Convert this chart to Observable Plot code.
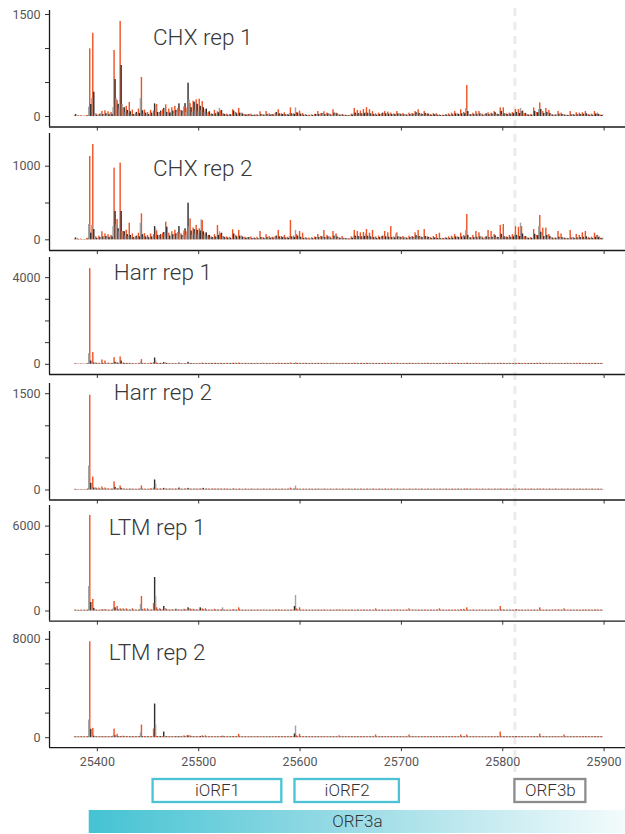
<!DOCTYPE html>
<html><head><meta charset="utf-8">
<script src="https://cdn.jsdelivr.net/npm/d3@7"></script>
<script src="https://cdn.jsdelivr.net/npm/@observablehq/plot@0.6"></script>
<style>
body{margin:0;background:#fff;}
#root{position:relative;width:625px;height:834px;overflow:hidden;background:#fff;}
#root svg{position:absolute;left:0;}
</style></head><body><div id="root"></div>
<script>
// ---------------- data ----------------
// per-nucleotide counts starting at START; consecutive triples = frame 0 (ORF3a frame), +1, +2
const START = 25378;
const xTicks = [25400, 25500, 25600, 25700, 25800, 25900];
const frameColors = ["#EE5325", "#2F2F2F", "#A3A3A3"];
const panelNames = ["CHX rep 1", "CHX rep 2", "Harr rep 1", "Harr rep 2", "LTM rep 1", "LTM rep 2"];
const yTickSets = [[0,500,1000,1500],[0,500,1000],[0,1000,2000,3000,4000],[0,500,1000,1500],[0,2000,4000,6000],[0,2000,4000,6000,8000]];
const yLabelSets = [[0,1500],[0,1000],[0,4000],[0,1500],[0,6000],[0,8000]];

const chx1 = [
10,30,5, 8,5,3, 12,4,2, 6,3,4, 15,8,137, 995,176,265, 1225,357,30, 40,20,15, 25,35,10, 75,30,20,
85,40,15, 70,25,45, 60,30,130, 971,544,265, 235,180,110, 1397,750,176, 118,130,60, 150,90,45, 206,70,30, 95,30,25,
40,60,35, 110,45,265, 574,85,40, 95,50,30, 60,30,25, 90,50,30, 80,186,147, 176,60,40, 60,80,30, 100,120,50,
172,60,40, 110,50,60, 130,80,40, 150,90,60, 120,186,70, 90,80,40, 140,190,60, 120,490,245, 190,130,60, 225,210,90,
245,180,70, 255,150,90, 220,130,60, 100,110,40, 60,70,30, 40,30,20, 90,40,25, 70,55,120, 80,90,40, 40,30,20,
35,20,15, 30,25,15, 100,80,30, 60,40,25, 120,50,30, 50,35,20, 30,20,25, 25,30,15, 35,15,20, 20,20,10,
30,15,15, 70,30,20, 25,20,15, 73,30,20, 40,20,30, 30,25,15, 45,60,25, 100,40,20, 40,30,35, 55,25,20,
30,20,45, 127,40,30, 40,30,127, 60,50,25, 80,35,20, 45,20,15, 30,15,10, 20,10,10, 25,15,10, 35,30,20,
73,30,20, 40,45,25, 70,30,20, 50,40,15, 35,20,20, 100,50,25, 50,40,20, 25,20,10, 30,20,15, 20,15,10,
15,10,10, 35,20,40, 118,50,30, 90,45,40, 80,40,30, 103,45,55, 130,50,40, 100,40,30, 73,30,25, 40,20,20,
50,30,20, 40,50,30, 73,40,25, 65,35,20, 50,30,25, 40,25,30, 73,40,20, 40,30,20, 45,25,20, 30,20,15,
50,30,20, 45,35,25, 73,55,30, 100,45,30, 40,30,20, 73,45,25, 40,35,20, 30,20,15, 45,25,30, 40,20,15,
25,15,10, 20,15,10, 30,20,15, 40,20,15, 50,25,20, 73,40,25, 40,30,20, 100,40,30, 60,40,118, 456,73,25,
30,25,20, 49,30,25, 73,35,30, 73,40,25, 35,20,15, 30,40,45, 55,30,25, 49,35,20, 73,55,30, 35,30,20,
127,75,30, 127,40,35, 40,30,20, 50,35,30, 60,40,45, 103,60,40, 103,45,118, 73,80,40, 40,45,25, 25,20,15,
30,20,15, 127,75,35, 60,55,100, 200,103,50, 73,45,30, 118,60,30, 90,45,25, 30,20,15, 25,20,15, 73,35,20,
49,30,15, 25,20,15, 20,15,10, 73,25,20, 30,20,15, 55,25,20, 49,30,20, 55,35,20, 73,40,20, 30,20,15,
35,20,15, 73,35,40, 49,30,30, 20,15,25];

const chx2 = [
10,27,5, 15,5,3, 10,4,2, 5,3,5, 20,10,208, 1132,90,195, 1295,140,40, 40,20,15, 50,30,15, 110,40,25,
80,45,20, 70,30,40, 60,40,180, 974,385,200, 276,150,110, 1042,385,113, 113,110,60, 130,70,45, 226,60,30, 80,30,20,
40,50,35, 90,40,226, 353,70,40, 85,40,30, 60,30,20, 80,40,30, 70,180,150, 120,60,40, 60,70,30, 90,100,40,
240,172,50, 90,50,50, 110,70,40, 130,80,60, 100,180,70, 80,60,40, 120,150,60, 110,498,180, 285,120,60, 160,140,80,
195,130,70, 150,120,272, 262,110,60, 90,95,40, 60,60,30, 40,30,20, 70,40,30, 195,60,110, 80,90,40, 45,30,20,
40,25,15, 35,20,15, 136,80,30, 60,40,25, 127,50,30, 50,35,20, 35,20,25, 30,30,15, 40,15,20, 25,20,10,
35,15,15, 113,30,20, 30,20,15, 70,30,20, 45,20,30, 35,25,15, 45,50,25, 127,40,20, 45,30,35, 60,25,20,
35,20,45, 262,40,30, 50,30,127, 70,50,25, 113,35,20, 90,20,15, 30,15,10, 25,10,10, 30,15,10, 40,30,20,
72,30,20, 45,40,25, 127,30,20, 60,40,15, 40,20,20, 113,50,25, 80,40,20, 30,20,10, 45,20,15, 20,15,10,
15,10,10, 40,20,40, 127,50,30, 113,45,40, 95,40,30, 100,45,80, 140,50,40, 90,40,30, 127,30,25, 40,20,20,
50,30,20, 45,50,30, 113,40,25, 95,35,20, 180,30,25, 40,25,80, 95,40,20, 40,30,20, 45,25,20, 30,20,15,
50,30,20, 45,35,25, 95,55,30, 127,45,30, 40,30,20, 140,45,25, 40,35,20, 30,20,15, 45,25,30, 72,20,15,
90,15,10, 20,15,10, 30,20,15, 40,20,15, 50,25,20, 72,40,25, 40,30,20, 90,40,30, 60,40,127, 344,60,25,
30,25,20, 60,30,25, 113,35,30, 95,40,25, 40,20,15, 30,40,50, 127,30,25, 113,35,20, 72,55,30, 35,30,20,
195,75,30, 208,40,35, 40,30,20, 60,35,30, 70,40,60, 180,60,40, 170,45,226, 180,80,40, 40,45,25, 25,20,15,
30,20,15, 140,75,35, 60,55,180, 330,103,50, 158,45,30, 160,60,30, 72,45,25, 30,20,15, 25,20,15, 113,35,20,
80,30,15, 25,20,15, 20,15,10, 127,25,20, 30,20,15, 72,25,20, 60,30,20, 95,35,20, 113,40,20, 30,20,15,
35,20,15, 90,35,60, 60,30,40, 20,15,25];

const harr1 = [
20,25,10, 15,10,10, 20,10,8, 15,10,10, 25,30,490, 4415,150,60, 540,60,30, 60,30,20, 50,25,20, 200,40,20,
150,30,20, 60,25,20, 40,30,50, 308,90,40, 80,40,30, 340,150,40, 60,40,25, 50,30,20, 50,25,20, 40,20,15,
30,20,15, 40,20,100, 215,30,20, 40,20,15, 30,20,15, 60,30,20, 80,290,150, 60,30,20, 40,40,20, 40,80,25,
60,40,20, 30,25,15, 30,30,15, 30,30,15, 30,60,15, 30,25,15, 30,30,15, 30,90,20, 40,40,15, 30,30,15,
30,25,15, 40,25,15, 60,30,15, 45,35,20, 40,30,25, 50,35,20, 45,40,20, 40,30,30, 45,35,20, 40,30,20,
45,30,25, 40,35,20, 45,40,20, 50,30,20, 60,35,20, 40,30,25, 45,35,20, 40,30,20, 45,35,20, 40,30,25,
45,30,20, 40,35,20, 50,30,20, 45,35,25, 40,30,20, 45,30,20, 40,35,20, 50,30,25, 45,30,20, 40,35,20,
45,30,20, 60,30,20, 40,30,70, 45,35,20, 50,30,20, 40,30,20, 45,35,25, 40,30,20, 45,30,20, 40,35,20,
50,30,20, 45,35,20, 40,30,25, 45,30,20, 40,35,20, 50,30,20, 45,35,25, 40,30,20, 45,30,20, 40,35,20,
45,30,20, 40,35,25, 50,30,20, 45,30,20, 40,35,20, 45,30,20, 50,35,25, 40,30,20, 45,30,20, 40,35,20,
45,30,20, 40,35,20, 50,30,25, 45,30,20, 40,35,20, 45,30,20, 50,35,20, 40,30,25, 45,30,20, 40,35,20,
50,30,20, 45,35,20, 40,30,25, 45,30,20, 40,35,20, 45,30,20, 50,35,25, 40,30,20, 45,30,20, 40,35,20,
45,30,20, 40,35,25, 50,30,20, 45,30,20, 40,35,20, 45,30,20, 50,35,25, 40,30,20, 45,30,20, 60,35,20,
45,30,20, 40,35,20, 50,30,25, 45,30,20, 40,35,20, 45,30,20, 50,35,20, 40,30,25, 45,30,20, 40,35,20,
55,30,20, 45,35,20, 40,30,25, 45,30,20, 40,35,20, 45,30,20, 50,35,25, 40,30,20, 45,30,20, 40,35,20,
45,30,20, 40,35,25, 50,30,20, 55,30,20, 40,35,20, 45,30,20, 50,35,25, 40,30,20, 45,30,20, 40,35,20,
45,30,20, 40,35,20, 50,30,25, 45,30,20, 40,35,20, 45,30,20, 50,35,20, 40,30,25, 45,30,20, 40,35,20,
45,30,20, 50,35,25, 40,30,20, 45,30,20];

const harr2 = [
8,10,4, 6,5,3, 8,5,3, 6,5,4, 10,12,374, 1475,104,25, 202,30,12, 31,15,8, 30,12,8, 47,15,8,
31,12,8, 20,10,8, 15,12,15, 125,40,12, 20,15,10, 62,25,10, 15,12,8, 14,10,8, 15,12,8, 15,10,8,
12,10,8, 14,10,20, 62,12,8, 14,10,8, 12,10,8, 20,12,8, 30,156,93, 15,12,8, 14,15,8, 12,25,8,
15,12,8, 12,15,8, 14,12,8, 12,15,8, 12,30,8, 14,12,8, 12,15,8, 14,25,8, 15,12,8, 12,14,8,
14,12,8, 12,15,8, 15,25,8, 12,14,8, 14,12,8, 12,14,8, 15,12,8, 15,12,10, 14,12,8, 12,14,8,
14,12,8, 12,10,8, 13,15,8, 12,10,8, 14,12,8, 12,10,8, 13,12,8, 12,10,8, 14,12,8, 12,10,8,
13,12,8, 12,10,8, 14,12,8, 12,10,8, 13,12,8, 12,10,8, 14,12,8, 12,10,8, 13,12,8, 12,10,8,
14,12,8, 30,12,8, 14,12,60, 13,12,8, 14,10,8, 12,12,8, 13,10,8, 12,12,8, 14,10,8, 12,12,8,
13,12,8, 12,10,8, 14,12,8, 12,10,8, 13,12,8, 12,10,8, 14,12,8, 12,10,8, 13,12,8, 12,10,8,
14,12,8, 12,10,8, 13,12,8, 12,10,8, 14,12,8, 12,10,8, 13,12,8, 12,10,8, 14,12,8, 12,10,8,
13,12,8, 12,10,8, 14,12,8, 12,10,8, 13,12,8, 12,10,8, 14,12,8, 12,10,8, 13,12,8, 12,10,8,
14,12,8, 12,10,8, 13,12,8, 12,10,8, 14,12,8, 12,10,8, 13,12,8, 12,10,8, 14,12,8, 12,10,8,
13,12,8, 12,10,8, 14,12,8, 12,10,8, 13,12,8, 12,10,8, 14,12,8, 12,10,8, 13,12,8, 18,10,8,
13,12,8, 12,10,8, 14,12,8, 12,10,8, 13,12,8, 12,10,8, 14,12,8, 12,10,8, 13,12,8, 12,10,8,
16,12,8, 12,10,8, 14,12,8, 12,10,8, 13,12,8, 12,10,8, 14,12,8, 12,10,8, 13,12,8, 12,10,8,
14,12,8, 12,10,8, 13,12,8, 16,10,8, 14,12,8, 12,10,8, 13,12,8, 12,10,8, 14,12,8, 12,10,8,
13,12,8, 12,10,8, 14,12,8, 12,10,8, 13,12,8, 12,10,8, 14,12,8, 12,10,8, 13,12,8, 12,10,8,
14,12,8, 12,10,8, 13,12,8, 12,10,8];

const ltm1 = [
60,50,30, 55,40,30, 60,45,30, 55,50,30, 60,50,1731, 6750,600,120, 813,177,60, 70,50,30, 60,50,30, 100,60,40,
100,55,35, 70,50,30, 60,55,153, 671,224,60, 318,80,40, 153,70,40, 153,60,40, 153,60,35, 80,55,30, 153,60,35,
70,50,35, 70,55,460, 1025,80,40, 150,60,35, 150,55,35, 70,60,35, 530,2367,1025, 224,70,40, 150,80,35, 80,318,40,
150,70,35, 70,60,35, 80,60,35, 70,120,35, 70,60,35, 80,55,35, 120,70,35, 80,224,40, 150,70,35, 120,60,35,
80,60,35, 80,224,40, 150,70,35, 150,60,35, 70,55,35, 70,50,35, 120,60,35, 80,55,40, 70,60,224, 70,55,35,
70,50,30, 65,55,30, 80,70,30, 70,55,30, 224,60,35, 70,50,30, 65,55,30, 60,50,30, 70,55,35, 65,50,30,
70,55,30, 65,50,30, 70,55,35, 60,50,30, 70,55,30, 65,50,30, 70,60,30, 80,55,35, 65,50,30, 70,55,30,
65,50,30, 70,55,35, 60,318,1095, 150,60,35, 224,55,30, 70,50,30, 65,55,30, 60,50,30, 70,55,35, 65,50,30,
80,55,30, 65,50,30, 80,55,35, 60,50,30, 70,55,30, 65,50,30, 70,60,30, 80,55,35, 65,50,30, 70,55,30,
65,50,30, 70,55,35, 60,50,30, 80,55,30, 65,50,30, 80,55,30, 65,50,35, 70,55,30, 60,50,30, 150,55,30,
65,50,30, 70,55,35, 60,50,30, 70,55,30, 65,50,30, 70,55,30, 80,50,35, 70,55,30, 60,50,30, 70,55,30,
150,50,30, 70,55,35, 60,50,30, 70,55,30, 65,50,30, 70,55,30, 65,50,35, 70,55,30, 60,50,30, 70,55,30,
150,50,30, 70,55,35, 60,50,30, 70,55,30, 65,50,30, 70,55,30, 65,50,35, 100,55,30, 120,50,30, 224,55,30,
65,50,30, 70,55,35, 60,50,30, 70,55,30, 65,50,30, 70,55,30, 65,50,35, 70,55,30, 60,50,30, 70,55,30,
318,60,30, 80,55,35, 60,50,30, 70,55,30, 65,50,30, 70,80,30, 65,50,35, 70,55,30, 60,50,30, 70,55,30,
65,50,30, 70,55,35, 60,50,30, 224,55,30, 65,50,30, 70,55,30, 65,50,35, 70,55,30, 80,50,30, 80,55,30,
65,50,30, 150,55,35, 60,50,30, 70,55,30, 65,50,30, 70,55,30, 65,50,35, 70,55,30, 80,50,30, 70,55,30,
65,50,30, 80,55,35, 80,50,30, 70,55,30];

const ltm2 = [
75,60,40, 70,55,40, 75,60,40, 70,55,40, 75,60,1436, 7800,678,150, 759,120,60, 85,60,40, 80,60,40, 100,65,40,
100,60,40, 85,60,40, 80,60,150, 705,150,60, 271,80,40, 100,70,40, 120,65,40, 100,60,40, 85,60,40, 100,60,40,
85,60,40, 85,60,380, 1030,80,40, 100,60,40, 100,60,40, 85,60,40, 705,2737,1030, 100,70,40, 90,80,40, 85,460,40,
100,70,40, 85,60,40, 90,60,40, 85,80,40, 85,80,40, 90,60,40, 150,70,40, 150,150,40, 150,70,40, 100,60,40,
90,60,40, 90,100,40, 150,70,40, 150,60,40, 85,60,40, 85,60,40, 80,60,40, 90,60,40, 85,60,150, 85,60,40,
80,60,40, 85,60,40, 90,70,40, 85,60,40, 271,60,40, 85,60,40, 80,60,40, 75,60,40, 85,60,40, 80,60,40,
85,65,40, 80,60,40, 85,60,40, 75,60,40, 85,65,40, 80,60,40, 85,60,40, 90,60,40, 80,65,40, 85,60,40,
80,60,40, 85,65,40, 80,300,948, 150,60,40, 271,60,40, 85,60,40, 80,65,40, 75,60,40, 85,60,40, 80,60,40,
90,60,40, 80,65,40, 85,60,40, 75,60,40, 85,65,40, 80,60,40, 85,60,40, 150,60,40, 80,65,40, 85,60,40,
80,60,40, 85,65,40, 80,60,40, 90,60,40, 80,65,40, 85,60,40, 80,60,40, 85,65,40, 80,60,40, 217,60,40,
80,60,40, 85,65,40, 80,60,40, 85,60,40, 80,65,40, 85,60,40, 90,60,40, 85,65,40, 80,60,40, 85,60,40,
217,60,40, 85,65,40, 80,60,40, 85,60,40, 80,65,40, 85,60,40, 80,60,40, 85,65,40, 80,60,40, 85,60,40,
90,60,40, 85,65,40, 80,60,40, 85,60,40, 80,65,40, 85,60,40, 80,60,40, 217,65,40, 100,60,40, 217,60,40,
80,60,40, 85,65,40, 80,60,40, 85,60,40, 80,65,40, 85,60,40, 80,60,40, 85,65,40, 80,60,40, 85,60,40,
460,60,40, 85,65,40, 80,60,40, 85,60,40, 80,65,40, 85,80,40, 80,60,40, 85,65,40, 80,60,40, 85,60,40,
80,60,40, 85,65,40, 80,60,40, 300,60,40, 80,65,40, 85,60,40, 80,60,40, 85,65,40, 90,60,40, 90,60,40,
80,60,40, 217,65,40, 80,60,40, 85,60,40, 80,65,40, 85,60,40, 80,60,40, 85,65,40, 90,60,40, 85,60,40,
80,60,40, 90,65,40, 90,60,40, 85,60,40];

const geneNames = ["iORF1", "iORF2", "ORF3b"];
const geneStarts = [25455, 25595, 25812];
const geneEnds = [25582, 25698, 25882];
const orf3aRange = [25392, 26220];
const dashedAt = 25812;

// ---------------- layout ----------------
const xDomain = [25352.8, 25921.1];
const panelValues = [chx1, chx2, harr1, harr2, ltm1, ltm2];
const panelLayout = [
  {top: 10,    bottom: 126.5, yDomain: [-154, 1559], tdx: 103.5, tdy: 18.3},
  {top: 133,   bottom: 250,   yDomain: [-145, 1444], tdx: 103.5, tdy: 27},
  {top: 256.5, bottom: 373.5, yDomain: [-471, 4929], tdx: 64.3,  tdy: 6.2},
  {top: 382.5, bottom: 499,   yDomain: [-156, 1659], tdx: 64.3,  tdy: 0.5},
  {top: 505,   bottom: 620.7, yDomain: [-721, 7456], tdx: 59.3,  tdy: 13.3},
  {top: 630.5, bottom: 746.7, yDomain: [-813, 8634], tdx: 59.3,  tdy: 12.2}
];
const FONT = "Roboto, 'Liberation Sans', sans-serif";
const root = document.getElementById("root");

function rowsOf(vals) {
  // draw taller bars first so neighbouring short bars never hide a peak's top
  return vals.map((v, i) => ({pos: START + i, v, c: frameColors[i % 3]}))
             .sort((a, b) => b.v - a.v);
}

// dashed guide across all panels (drawn first, behind)
const guide = Plot.plot({
  width: 625, height: 834, marginLeft: 49, marginRight: 0, marginTop: 8, marginBottom: 31,
  x: {domain: xDomain, axis: null},
  style: {background: "transparent"},
  marks: [Plot.ruleX([dashedAt], {stroke: "#EBEBEB", strokeWidth: 3, strokeDasharray: "8,6"})]
});
guide.style.top = "0px";
root.append(guide);

panelLayout.forEach((p, i) => {
  const last = i === panelLayout.length - 1;
  const mb = last ? 24 : 6;
  const h = 8 + (p.bottom - p.top) + mb;
  const svg = Plot.plot({
    width: 625, height: h, marginLeft: 49, marginRight: 0, marginTop: 8, marginBottom: mb,
    x: {domain: xDomain},
    y: {domain: p.yDomain},
    color: {type: "identity"},
    style: {background: "transparent", fontFamily: FONT},
    marks: [
      Plot.rect(rowsOf(panelValues[i]), {x1: d => d.pos - 0.7, x2: d => d.pos + 0.7, y1: 0, y2: "v", fill: "c"}),
      Plot.ruleX([xDomain[0]], {stroke: "#1a1a1a", strokeWidth: 1.3}),
      Plot.ruleY([p.yDomain[0]], {stroke: "#1a1a1a", strokeWidth: 1.3}),
      Plot.axisY(yTickSets[i], {anchor: "left", label: null, tickSize: 4, tickPadding: 5,
        tickFormat: d => yLabelSets[i].includes(d) ? String(d) : "",
        fontSize: 12.5, fill: "#555", stroke: "#333"}),
      Plot.axisX(xTicks, {anchor: "bottom", label: null, tickSize: 4, tickPadding: 5,
        tickFormat: d => last ? String(d) : "",
        fontSize: 12.5, fill: "#555", stroke: "#333"}),
      Plot.text([panelNames[i]], {text: d => d, frameAnchor: "top-left", dx: p.tdx, dy: p.tdy,
        lineAnchor: "top", textAnchor: "start", fontSize: 22.5, fontWeight: 300, fill: "#383838"})
    ]
  });
  svg.style.top = (p.top - 8) + "px";
  root.append(svg);
});

// gene annotation track
const genes = geneNames.map((n, i) => ({name: n, start: geneStarts[i], end: geneEnds[i], row: "i",
  stroke: n === "ORF3b" ? "#8C8C8C" : "#4CC3D4"}));
const orf3a = [{name: "ORF3a", start: orf3aRange[0], end: Math.min(orf3aRange[1], xDomain[1]), row: "a"}];
const ann = Plot.plot({
  width: 625, height: 64, marginLeft: 49, marginRight: 0, marginTop: 0, marginBottom: 0,
  x: {domain: xDomain, axis: null},
  y: {type: "band", domain: ["i", "a"], range: [-0.3, 72], padding: 0.26, axis: null},
  color: {type: "identity"},
  style: {background: "transparent", fontFamily: FONT},
  marks: [
    () => {
      const defs = d3.create("svg:defs");
      const g = defs.append("linearGradient").attr("id", "orf3aGrad").attr("x1", "0").attr("x2", "1").attr("y1", "0").attr("y2", "0");
      g.append("stop").attr("offset", "0%").attr("stop-color", "#44C3D3");
      g.append("stop").attr("offset", "50%").attr("stop-color", "#9CDCE6");
      g.append("stop").attr("offset", "100%").attr("stop-color", "#F3FBFC");
      return defs.node();
    },
    Plot.barX(orf3a, {x1: "start", x2: "end", y: "row", fill: "url(#orf3aGrad)"}),
    Plot.text(orf3a, {x: d => (d.start + d.end) / 2, y: "row", text: "name", fontSize: 17, fontWeight: 300, fill: "#333"}),
    Plot.barX(genes, {x1: "start", x2: "end", y: "row", fill: "white", stroke: "stroke", strokeWidth: 2.3}),
    Plot.text(genes, {x: d => (d.start + d.end) / 2, y: "row", text: "name", fontSize: 17, fontWeight: 300, fill: "#333"})
  ]
});
ann.style.top = "770px";
root.append(ann);
</script>
</body></html>
